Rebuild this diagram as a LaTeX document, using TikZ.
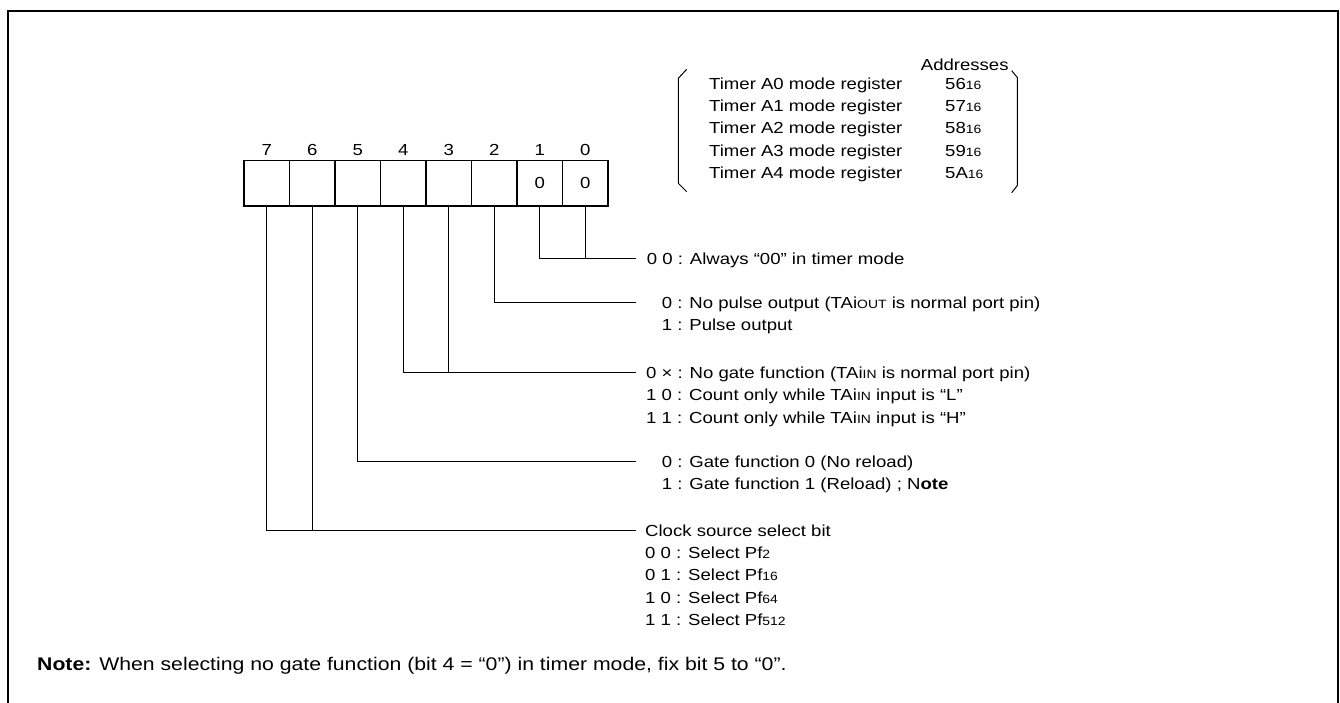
\documentclass[tikz,border=0pt]{standalone}
\usepackage{fontspec}
\setmainfont{Liberation Sans}[FakeStretch=1.16]
\usetikzlibrary{positioning}
\newcommand\smtxt[1]{{\fontsize{12}{12}\selectfont #1}}
\tikzset{
  cell/.style={draw,line width=1.2pt,minimum size=45.5pt,inner sep=0,outer sep=0},
  txt/.style={inner sep=0,anchor=base west,align=left,font=\fontsize{16}{22.4}\selectfont},
  wire/.style={line width=1pt}
}
\begin{document}
\begin{tikzpicture}[x=1pt,y=-1pt]
\useasboundingbox (0,0) rectangle (1340,702);
\draw[line width=2.5pt] (8,712)--(8,11)--(1338,11)--(1338,712);
% register bits
\node[cell] (c7) at (266.7,183.3) {};
\foreach \i/\j in {6/7,5/6,4/5,3/4,2/3,1/2,0/1}{\node[cell,right=0pt of c\j] (c\i) {};}
\foreach \i in {0,...,7}{\node[txt,anchor=center] (n\i) at ([yshift=10.7pt]c\i.north) {\i};}
\node[txt,anchor=center] (v1) at (c1) {0};\node[txt,anchor=center] (v0) at (c0) {0};
% register list (base = last line)
\draw[wire] (686.7,69.3)--(678.3,78.3)--(678.3,183.3)--(686.7,191.7);
\draw[wire] (1011.7,70.7)--(1017.3,77.5)--(1017.3,185.5)--(1011.7,192.7);
\node[txt] (adrhead) at (920.7,70) {Addresses};
\node[txt] (regs) at (709,178.6) {Timer A0 mode register\\Timer A1 mode register\\Timer A2 mode register\\Timer A3 mode register\\Timer A4 mode register};
\node[txt] (adrs) at (945,178.6) {56\smtxt{16}\\57\smtxt{16}\\58\smtxt{16}\\59\smtxt{16}\\5A\smtxt{16}};
% bit descriptions
\coordinate (e0) at (636,258.3);\draw[wire] (c1.south) |- (e0);\draw[wire] (c0.south) -- (c0.south |- e0);
\coordinate (e1) at (636,302.7);\draw[wire] (c2.south) |- (e1);
\coordinate (e2) at (636,372.5);\draw[wire] (c4.south) |- (e2);\draw[wire] (c3.south) -- (c3.south |- e2);
\coordinate (e3) at (636,461.7);\draw[wire] (c5.south) |- (e3);
\coordinate (e4) at (636,530);\draw[wire] (c7.south) |- (e4);\draw[wire] (c6.south) -- (c6.south |- e4);
\node[txt] (t0) at (646.7,264) {0 0 : Always “00” in timer mode};
\node[txt] (t1) at (661.7,330.9) {0 : No pulse output (TAi\smtxt{OUT} is normal port pin)\\1 : Pulse output};
\node[txt] (t2) at (646,423.3) {0 × : No gate function (TAi\smtxt{IN} is normal port pin)\\1 0 : Count only while TAi\smtxt{IN} input is “L”\\1 1 : Count only while TAi\smtxt{IN} input is “H”};
\node[txt] (t3) at (661.7,489.9) {0 : Gate function 0 (No reload)\\1 : Gate function 1 (Reload) ; N\textbf{ote}};
\node[txt] (t4) at (645,625.6) {Clock source select bit\\0 0 : Select Pf\smtxt{2}\\0 1 : Select Pf\smtxt{16}\\1 0 : Select Pf\smtxt{64}\\1 1 : Select Pf\smtxt{512}};
\node[txt,font=\fontsize{18.3}{22}\selectfont] (note) at (37,670.5) {\textbf{Note:} When selecting no gate function (bit 4 = “0”) in timer mode, fix bit 5 to “0”.};
\end{tikzpicture}
\end{document}
